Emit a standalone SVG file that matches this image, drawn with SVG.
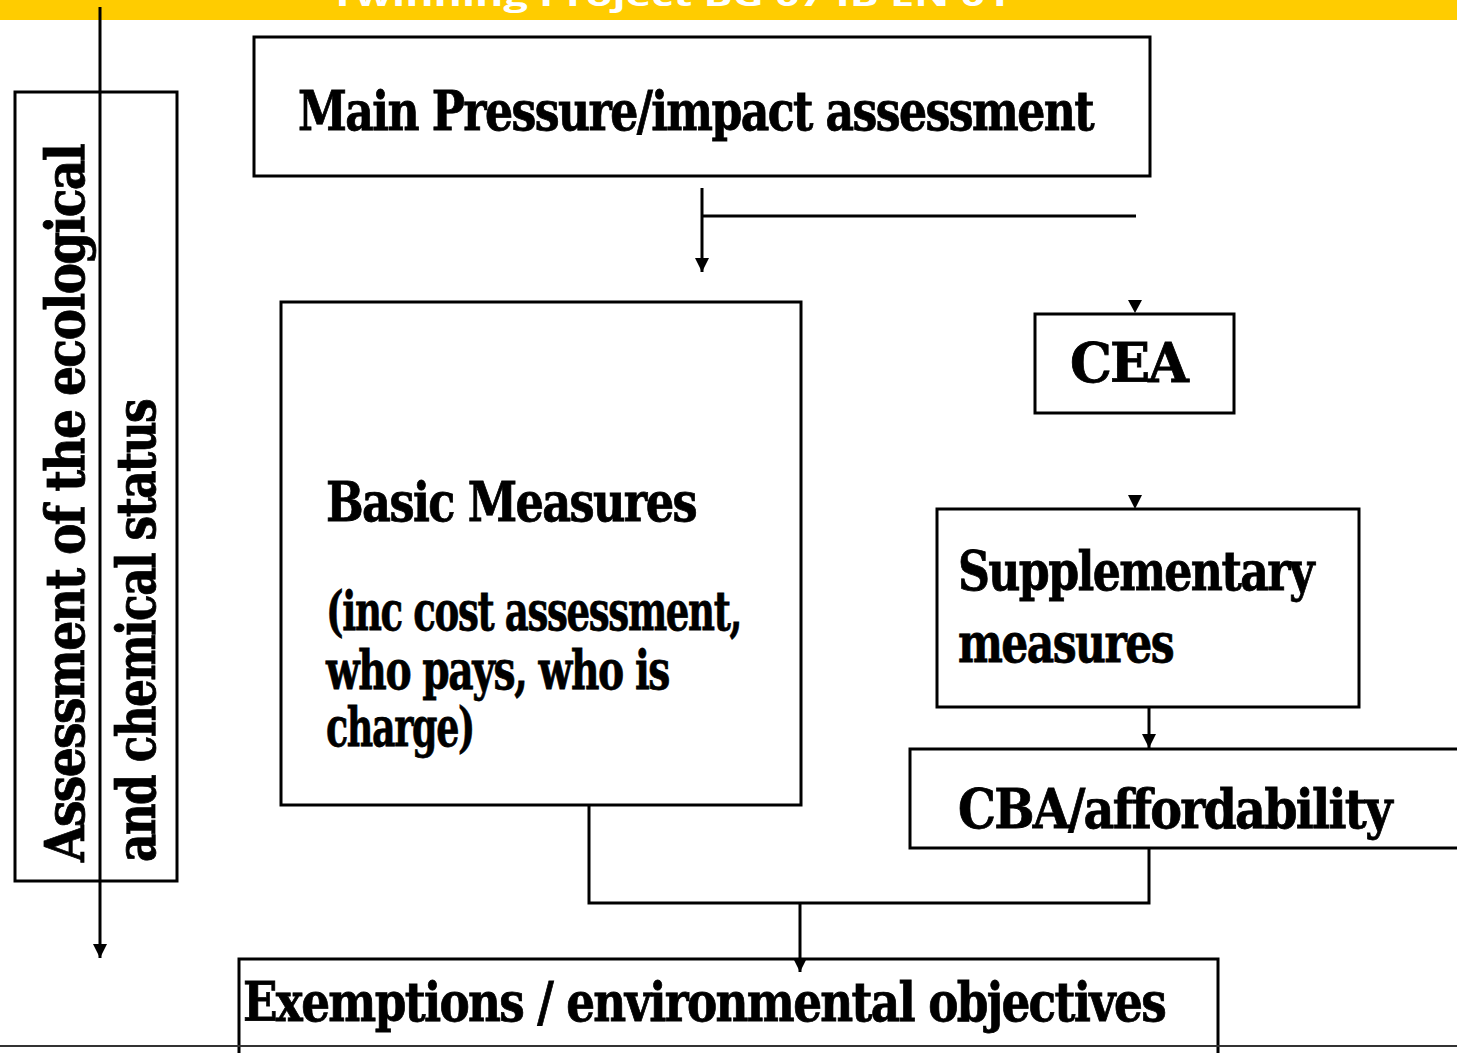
<svg xmlns="http://www.w3.org/2000/svg" width="1457" height="1053" viewBox="0 0 1457 1053">
<style>
.box{fill:#fff;stroke:#000;stroke-width:3}
.lbl{font-family:"DejaVu Serif","Liberation Serif",serif;font-weight:bold;font-size:54px;letter-spacing:-2px;fill:#000;stroke:#000;stroke-width:0.8}
.ln{stroke:#000;stroke-width:3;fill:none}
.ah{fill:#000}
</style>
<defs>
<marker id="arr" markerUnits="userSpaceOnUse" markerWidth="16" markerHeight="16" viewBox="0 0 16 16" refX="8" refY="15" orient="0">
<path d="M1,1 L15,1 L8,15 Z" fill="#000"/>
</marker>
</defs>
<rect x="0" y="0" width="1457" height="20" fill="#FFCC00"/>
<text x="670" y="6" text-anchor="middle" font-family="'Open Sans',sans-serif" font-weight="bold" font-size="30" fill="#fff" textLength="680" lengthAdjust="spacingAndGlyphs">Twinning Project BG 07 IB EN 01</text>

<g id="assessment">
<rect class="box" x="15" y="92" width="162" height="789"/>
<text class="lbl" transform="translate(84,862) rotate(-90)" textLength="717" lengthAdjust="spacingAndGlyphs">Assessment of the ecological</text>
<text class="lbl" transform="translate(155,862) rotate(-90)" textLength="462" lengthAdjust="spacingAndGlyphs">and chemical status</text>
</g>

<g id="main">
<rect class="box" x="254" y="37" width="896" height="139"/>
<text class="lbl" x="298" y="130" textLength="795" lengthAdjust="spacingAndGlyphs">Main Pressure/impact assessment</text>
</g>

<g id="basic">
<rect class="box" x="281" y="302" width="520" height="503"/>
<text class="lbl" x="326" y="521" textLength="370" lengthAdjust="spacingAndGlyphs">Basic Measures</text>
<text class="lbl" x="326" y="630" textLength="415" lengthAdjust="spacingAndGlyphs">(inc cost assessment,</text>
<text class="lbl" x="326" y="689" textLength="343" lengthAdjust="spacingAndGlyphs">who pays, who is</text>
<text class="lbl" x="326" y="746" textLength="148" lengthAdjust="spacingAndGlyphs">charge)</text>
</g>

<g id="cea">
<rect class="box" x="1035" y="314" width="199" height="99"/>
<text class="lbl" x="1070" y="382" textLength="117" lengthAdjust="spacingAndGlyphs">CEA</text>
</g>

<g id="supplementary">
<rect class="box" x="937" y="509" width="422" height="198"/>
<text class="lbl" x="958" y="590" textLength="355" lengthAdjust="spacingAndGlyphs">Supplementary</text>
<text class="lbl" x="958" y="662" textLength="215" lengthAdjust="spacingAndGlyphs">measures</text>
</g>

<g id="cba">
<rect class="box" x="910" y="749" width="560" height="99"/>
<text class="lbl" x="958" y="828" textLength="433" lengthAdjust="spacingAndGlyphs">CBA/affordability</text>
</g>

<g id="exemptions">
<rect class="box" x="239" y="959" width="979" height="110"/>
<text class="lbl" x="243" y="1021" textLength="922" lengthAdjust="spacingAndGlyphs">Exemptions / environmental objectives</text>
</g>

<g id="connectors">
<line class="ln" x1="100" y1="7" x2="100" y2="958" stroke-width="2" marker-end="url(#arr)"/>
<line class="ln" x1="702" y1="188" x2="702" y2="272" marker-end="url(#arr)"/>
<line class="ln" x1="702" y1="216" x2="1136" y2="216"/>
<polygon class="ah" points="1128,300 1142,300 1135,313"/>
<polygon class="ah" points="1128,495 1142,495 1135,509"/>
<line class="ln" x1="1149" y1="707" x2="1149" y2="748" stroke-width="2" marker-end="url(#arr)"/>
<polyline class="ln" points="589,805 589,903 1149,903 1149,848"/>
<line class="ln" x1="800" y1="903" x2="800" y2="972" marker-end="url(#arr)"/>
<line x1="0" y1="1046" x2="1457" y2="1046" stroke="#333" stroke-width="2"/>
</g>
</svg>
